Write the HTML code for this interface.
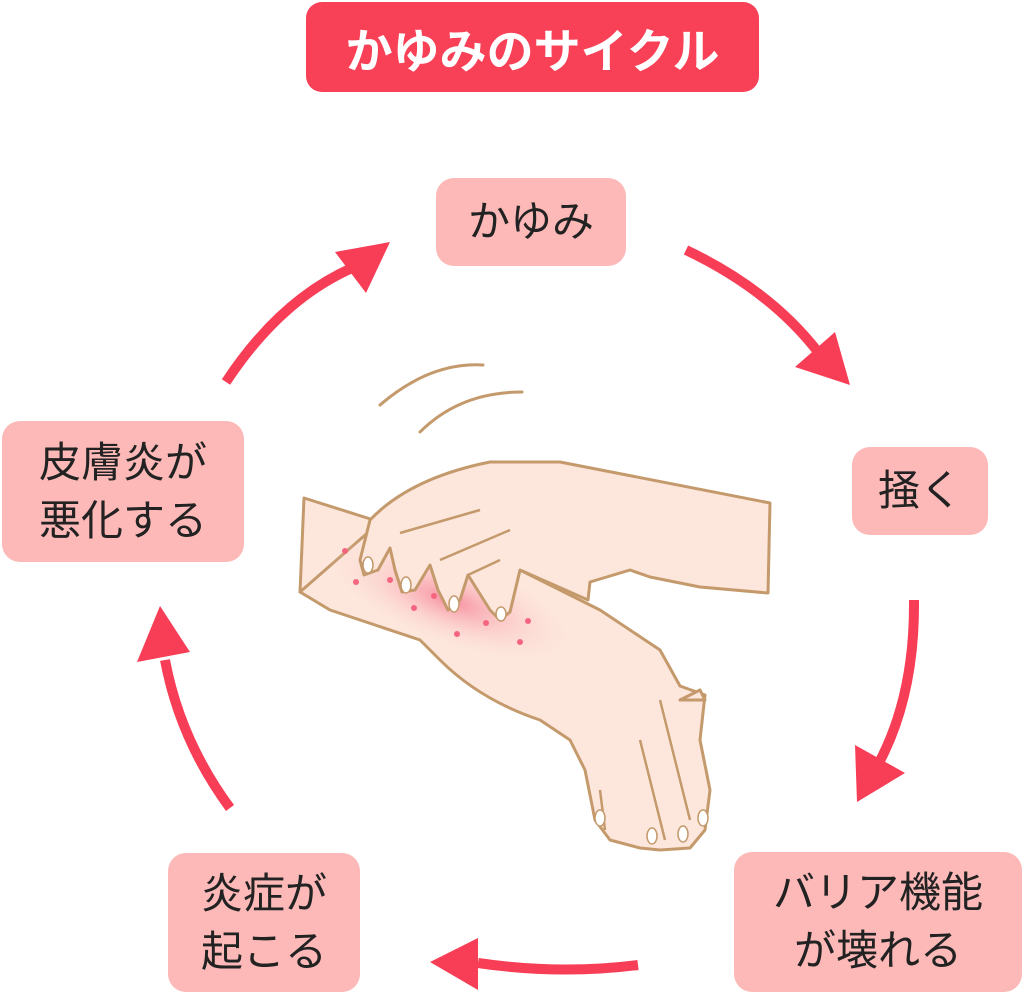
<!DOCTYPE html>
<html><head><meta charset="utf-8"><style>
body{margin:0;width:1024px;height:996px;background:#fff;overflow:hidden;position:relative;font-family:"Liberation Sans","Noto Sans CJK JP",sans-serif;}
.b{position:absolute;background:#fcb9b8;border-radius:18px;color:#222;font-size:42px;line-height:58px;display:flex;align-items:center;justify-content:center;text-align:center;}
.t{position:absolute;left:306px;top:2px;width:453px;height:90px;background:#f84057;border-radius:16px;color:#fff;font-size:47px;font-weight:bold;display:flex;align-items:center;justify-content:center;}
svg{position:absolute;left:0;top:0}
</style></head><body>
<svg width="1024" height="996">
<g stroke="#f73e56" stroke-width="10" fill="none">
<path d="M226 382 Q280 300 352 268"/>
<path d="M686 250 Q770 290 818 352"/>
<path d="M914 600 Q915 700 875 770"/>
<path d="M638 965 Q560 975 478 963"/>
<path d="M230 808 Q180 740 165 660"/>
</g>
<g fill="#f73e56">
<polygon points="390,242 335,252 366,293"/>
<polygon points="850,385 795,367 835,332"/>
<polygon points="857,802 855,745 905,773"/>
<polygon points="430,962 478,938 478,990"/>
<polygon points="160,606 137,662 190,652"/>
</g>
<defs><radialGradient id="rg" cx="0.5" cy="0.5" r="0.5"><stop offset="0" stop-color="#f78fa0"/><stop offset="1" stop-color="#fde3dc" stop-opacity="0"/></radialGradient></defs>
<g stroke="#c49a6c" stroke-width="3" fill="none" stroke-linecap="round">
<path d="M380 405 Q430 362 483 365"/>
<path d="M420 432 Q460 392 522 392"/>
</g>
<g stroke="#c49a6c" stroke-width="3" fill="#fde6dc" stroke-linejoin="round">
<path d="M304 498 L380 522 L380 570 L300 592 Z"/>
<path d="M300 592 L330 610 L420 640 L440 660 Q480 700 540 720 L570 740 L585 770 L595 820 L610 840 L640 848 L660 850 L690 848 L705 830 L710 790 L700 740 L705 695 L680 686 L660 650 L600 610 L520 570 L380 522 Z"/>
<path d="M700 690 L705 700 L680 700 Z"/>
</g>
<ellipse cx="450" cy="600" rx="130" ry="45" fill="url(#rg)" transform="rotate(20 450 600)"/>
<g stroke="#c49a6c" stroke-width="3" fill="#fde6dc" stroke-linejoin="round">
<path d="M370 520 Q410 478 490 462 L560 462 L770 503 L768 593 L700 587 L650 577 L630 570 L590 582 L588 600 L520 570 L510 612 L500 620 L490 610 L468 575 L460 600 L448 610 L438 590 L430 565 L415 590 L402 592 L395 570 L390 548 L378 570 L364 575 L360 560 Z"/>
</g>
<g stroke="#c49a6c" stroke-width="2.5" fill="none">
<path d="M400 533 L480 510"/><path d="M440 560 L510 530"/><path d="M468 575 L500 560"/>
<path d="M600 790 L605 830"/><path d="M640 740 L665 840"/><path d="M660 700 L690 820"/>
</g>
<g fill="#fff" stroke="#c49a6c" stroke-width="1.5">
<ellipse cx="368" cy="565" rx="5" ry="8"/><ellipse cx="406" cy="585" rx="5" ry="8"/><ellipse cx="454" cy="604" rx="5" ry="8"/><ellipse cx="501" cy="614" rx="5" ry="7"/>
<ellipse cx="600" cy="818" rx="5" ry="8"/><ellipse cx="652" cy="836" rx="5" ry="8"/><ellipse cx="683" cy="834" rx="5" ry="8"/><ellipse cx="703" cy="818" rx="5" ry="8"/>
</g>
<g fill="#f56580">
<circle cx="345" cy="551" r="3"/><circle cx="356" cy="582" r="3"/><circle cx="390" cy="580" r="3"/><circle cx="414" cy="608" r="3"/><circle cx="434" cy="596" r="3"/><circle cx="457" cy="634" r="3"/><circle cx="486" cy="623" r="3"/><circle cx="528" cy="621" r="3"/><circle cx="520" cy="642" r="3"/>
</g>
</svg>
<div class="t">かゆみのサイクル</div>
<div class="b" style="left:436px;top:178px;width:190px;height:88px">かゆみ</div>
<div class="b" style="left:852px;top:447px;width:136px;height:88px">掻く</div>
<div class="b" style="left:734px;top:852px;width:288px;height:140px">バリア機能<br>が壊れる</div>
<div class="b" style="left:168px;top:853px;width:192px;height:139px">炎症が<br>起こる</div>
<div class="b" style="left:2px;top:421px;width:242px;height:141px">皮膚炎が<br>悪化する</div>
</body></html>
